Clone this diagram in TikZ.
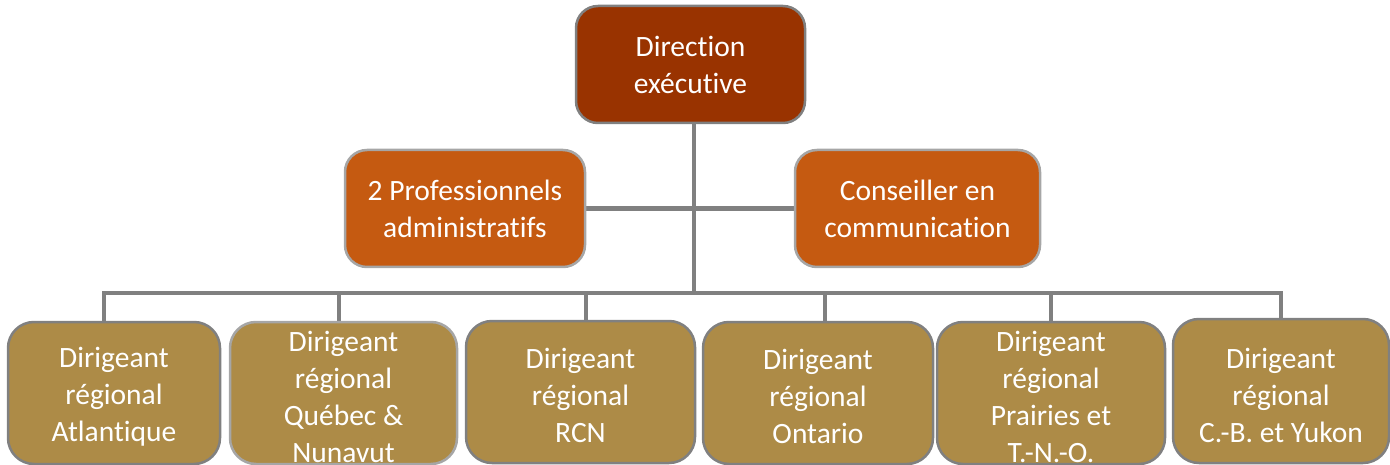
\documentclass[tikz,border=0pt]{standalone}
\usepackage{fontspec}
\setmainfont{Carlito}[RawFeature=-liga]
\usetikzlibrary{backgrounds}
\definecolor{topc}{HTML}{993300}
\definecolor{midc}{HTML}{C55A11}
\definecolor{botc}{HTML}{AD8B47}
\definecolor{linec}{HTML}{808080}
\definecolor{midb}{HTML}{A6A6A6}
\tikzset{
  box/.style={draw=linec, line width=2.5pt, rounded corners=22pt, text=white, align=center,
    font=\fontsize{29.5}{37}\selectfont, inner sep=0pt},
  topbox/.style={box, fill=topc, minimum width=229pt, minimum height=117pt},
  midbox/.style={box, fill=midc, draw=midb, minimum width=240pt, minimum height=117pt},
  botbox/.style={box, fill=botc, minimum height=142pt, rounded corners=26pt},
  btext/.style={text=white, align=center, font=\fontsize{29.5}{37}\selectfont, inner sep=0pt},
  conn/.style={draw=linec, line width=4.5pt}
}
\begin{document}
\begin{tikzpicture}[x=1pt,y=-1pt]
\useasboundingbox (0,0) rectangle (1390,465);
\coordinate (tr) at (694,0);
\coordinate (busL) at (104,293);
\coordinate (busR) at (1281,293);
\node[topbox] (top) at (690.5,64.5) {Direction\\exécutive};
\node[midbox] (adm) at (465,208.5) {2 Professionnels\\administratifs};
\node[midbox, minimum width=245pt] (com) at (917.5,208.5) {Conseiller en\\communication};
\node[botbox, minimum width=212pt] (b1) at (114,393) {};
\node[botbox, minimum width=227pt, draw=midb] (b2) at (343.5,393) {};
\node[botbox, minimum width=229pt] (b3) at (580.5,392) {};
\node[botbox, minimum width=230pt] (b4) at (818,393) {};
\node[botbox, minimum width=228pt] (b5) at (1051,393) {};
\node[botbox, minimum width=216pt, minimum height=144pt] (b6) at (1281,391) {};
\node[btext] (t1) at ([yshift=-4pt]b1.center) {Dirigeant\\régional\\Atlantique};
\node[btext] (t2) at ([yshift=-4pt]b2.center) {Dirigeant\\régional\\Québec \&\\Nunavut};
\node[btext] (t3) at ([yshift=-3pt]b3.center) {Dirigeant\\régional\\RCN};
\node[btext] (t4) at ([yshift=-3pt]b4.center) {Dirigeant\\régional\\Ontario};
\node[btext] (t5) at ([yshift=-4pt]b5.center) {Dirigeant\\régional\\Prairies et\\T.-N.-O.};
\node[btext] (t6) at ([yshift=-4pt]b6.center) {Dirigeant\\régional\\C.-B. et Yukon};
\begin{scope}[on background layer]
\draw[conn] (top.south -| tr) -- (tr |- busL);
\draw[conn] (adm.east) -- (com.west);
\draw[conn, line cap=rect] (busL) -- (busR);
\foreach \b/\x in {b1/104,b2/339,b3/586,b4/825,b5/1051,b6/1281}{
  \coordinate (d) at (\x,293);
  \draw[conn] (d) -- (d |- \b.north);
}
\end{scope}
\end{tikzpicture}
\end{document}
